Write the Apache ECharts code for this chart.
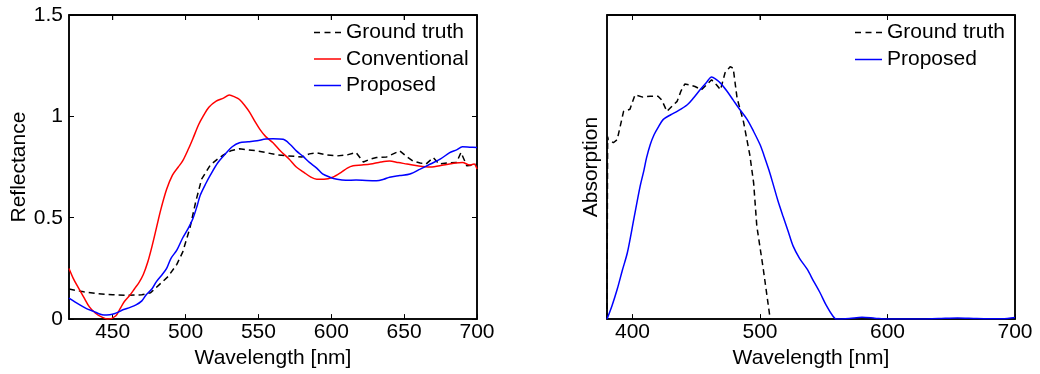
<!DOCTYPE html>
<html>
<head>
<meta charset="utf-8">
<script src="https://cdn.jsdelivr.net/npm/echarts@6/dist/echarts.min.js"></script>
<style>
html,body{margin:0;padding:0;background:#fff;}
#chart{width:1040px;height:374px;}
</style>
</head>
<body>
<div id="chart"></div>
<script>
// ---- Data (wavelength [nm], value) ----
const leftXTicks = [450, 500, 550, 600, 650, 700];
const leftYTicks = [0, 0.5, 1, 1.5];
const rightXTicks = [400, 500, 600, 700];

const leftGroundTruth = [[420,0.148],[430,0.135],[440,0.125],[450,0.12],[460,0.117],[470,0.12],[476,0.13],[482,0.17],[488,0.21],[494,0.27],[498,0.33],[503,0.45],[507,0.58],[511,0.69],[517,0.76],[522,0.79],[526,0.81],[531,0.83],[537,0.84],[543,0.835],[549,0.83],[556,0.82],[563,0.81],[570,0.805],[580,0.80],[585,0.815],[590,0.82],[597,0.81],[604,0.805],[611,0.81],[617,0.822],[622,0.775],[627,0.79],[631,0.797],[638,0.80],[647,0.83],[652,0.80],[656,0.78],[661,0.77],[665,0.765],[670,0.797],[674,0.765],[680,0.77],[686,0.773],[689,0.822],[693,0.756],[697,0.76],[700,0.765]];

const leftConventional = [[420,0.25],[423,0.2],[426,0.16],[430,0.11],[434,0.06],[438,0.03],[442,0.012],[447,0.0],[452,0.015],[455,0.05],[458,0.087],[462,0.12],[465,0.15],[468,0.18],[471,0.22],[474,0.28],[477,0.36],[480,0.45],[483,0.54],[487,0.64],[491,0.71],[495,0.75],[498,0.78],[502,0.84],[505,0.89],[509,0.96],[512,1.0],[516,1.045],[521,1.075],[526,1.09],[530,1.105],[534,1.095],[537,1.083],[541,1.05],[544,1.02],[548,0.97],[551,0.936],[555,0.9],[560,0.87],[565,0.83],[571,0.79],[576,0.75],[581,0.725],[586,0.70],[590,0.69],[595,0.69],[601,0.70],[607,0.725],[611,0.745],[615,0.756],[621,0.76],[627,0.765],[634,0.775],[640,0.78],[646,0.772],[652,0.765],[660,0.755],[668,0.75],[677,0.76],[685,0.77],[690,0.773],[695,0.76],[698,0.765],[700,0.74]];

const leftProposed = [[420,0.103],[424,0.085],[428,0.068],[432,0.052],[437,0.038],[441,0.025],[444,0.02],[448,0.022],[451,0.026],[454,0.035],[457,0.046],[462,0.058],[466,0.07],[470,0.09],[473,0.12],[477,0.15],[480,0.185],[484,0.22],[487,0.25],[490,0.3],[494,0.34],[498,0.40],[502,0.45],[505,0.495],[508,0.56],[510,0.61],[514,0.67],[517,0.71],[522,0.77],[528,0.82],[532,0.85],[537,0.87],[543,0.875],[549,0.88],[555,0.888],[560,0.89],[567,0.887],[572,0.86],[576,0.83],[581,0.80],[585,0.773],[590,0.745],[594,0.716],[599,0.70],[604,0.69],[610,0.685],[617,0.686],[624,0.684],[631,0.683],[636,0.69],[640,0.70],[647,0.708],[654,0.716],[661,0.74],[668,0.765],[675,0.79],[681,0.82],[686,0.835],[690,0.85],[695,0.848],[700,0.846]];

const rightGroundTruth = [[380,0],[380.5,0.6],[381,0.59],[385,0.58],[388,0.59],[393,0.683],[398,0.69],[402,0.738],[408,0.73],[414,0.733],[420,0.733],[423,0.72],[427,0.683],[431,0.70],[435,0.716],[438,0.75],[441,0.773],[445,0.77],[449,0.765],[454,0.754],[458,0.77],[462,0.787],[466,0.77],[469,0.754],[472.6,0.81],[476.6,0.83],[479,0.825],[482,0.727],[487,0.65],[492,0.54],[495,0.448],[497.5,0.306],[502.6,0.164],[508,0]];

const rightProposed = [[380,0],[384,0.045],[388,0.098],[392,0.16],[396,0.219],[401,0.328],[406,0.437],[409,0.49],[411,0.53],[414,0.575],[417,0.607],[420,0.63],[424,0.656],[430,0.672],[435,0.683],[443,0.705],[448,0.728],[453,0.754],[458,0.778],[462,0.796],[465,0.79],[469,0.776],[474,0.75],[479,0.72],[484,0.69],[490,0.656],[495,0.617],[500,0.574],[503,0.54],[507,0.49],[510,0.448],[514,0.39],[518,0.339],[522,0.29],[526,0.24],[531,0.2],[537,0.164],[542,0.125],[547,0.0875],[552,0.045],[557,0.011],[560,0],[570,0.002],[580,0.006],[590,0.003],[600,0],[620,0],[640,0.002],[655,0.004],[670,0.002],[690,0.001],[700,0.005]];

// ---- Chart ----
const FONT = 'Liberation Sans, Arial, Helvetica, sans-serif';
const FS = 21;
const dash = [6,4];
const ICON_DASH = 'path://M0,0h6v1.5h-6z M10.5,0h6v1.5h-6z M21,0h6v1.5h-6z';
const ICON_SOLID = 'path://M0,0h27v1.5h-27z';

function line(){ return {show:true, onZero:false, lineStyle:{color:'#000', width:1.5}}; }

function xBottom(grid, min, max, ticks){
  return {
    type:'value', gridIndex:grid, min:min, max:max, position:'bottom',
    axisLine: line(),
    axisTick:{show:true, inside:true, length:5, customValues:ticks, lineStyle:{color:'#000', width:1}},
    axisLabel:{show:true, customValues:ticks, color:'#000', fontFamily:FONT, fontSize:FS, margin:3},
    splitLine:{show:false},
    name:'Wavelength [nm]', nameLocation:'middle', nameGap:23,
    nameTextStyle:{color:'#000', fontFamily:FONT, fontSize:FS}
  };
}
function xTop(grid, min, max, ticks){
  return {
    type:'value', gridIndex:grid, min:min, max:max, position:'top',
    axisLine: line(),
    axisTick:{show:true, inside:true, length:5, customValues:ticks, lineStyle:{color:'#000', width:1}},
    axisLabel:{show:false},
    splitLine:{show:false}
  };
}
function yAx(grid, min, max, interval, pos, showLabel, showTick, name, gap){
  const o = {
    type:'value', gridIndex:grid, min:min, max:max, position:pos,
    axisLine: line(),
    axisTick:{show:showTick, inside:true, length:5, lineStyle:{color:'#000', width:1}},
    axisLabel: showLabel ? {show:true, color:'#000', fontFamily:FONT, fontSize:FS, margin:6} : {show:false},
    splitLine:{show:false}
  };
  if (interval) o.interval = interval;
  if (name) {
    o.name = name; o.nameLocation = 'middle'; o.nameGap = gap;
    o.nameTextStyle = {color:'#000', fontFamily:FONT, fontSize:FS};
  }
  return o;
}

const chart = echarts.init(document.getElementById('chart'), null, {renderer:'canvas'});
chart.setOption({
  backgroundColor:'#fff',
  animation:false,
  grid:[
    {left:69, top:15, width:408, height:306, show:true, borderColor:'#000', borderWidth:1.5, backgroundColor:'transparent'},
    {left:607, top:15, width:408, height:305, show:true, borderColor:'#000', borderWidth:1.5, backgroundColor:'transparent'}
  ],
  xAxis:[
    xBottom(0, 420, 700, leftXTicks),
    xTop(0, 420, 700, leftXTicks),
    xBottom(1, 380, 700, rightXTicks),
    xTop(1, 380, 700, rightXTicks)
  ],
  yAxis:[
    yAx(0, leftYTicks[0], leftYTicks[leftYTicks.length-1], 0.5, 'left', true, true, 'Reflectance', 31),
    yAx(0, leftYTicks[0], leftYTicks[leftYTicks.length-1], 0.5, 'right', false, true),
    yAx(1, 0, 1, null, 'left', false, false, 'Absorption', 5),
    yAx(1, 0, 1, null, 'right', false, false)
  ],
  legend:[
    {left:314, top:22, orient:'vertical', padding:0, itemWidth:27, itemHeight:1.5, itemGap:5.5,
     data:[{name:'Ground truth', icon:ICON_DASH},{name:'Conventional', icon:ICON_SOLID},{name:'Proposed', icon:ICON_SOLID}],
     textStyle:{color:'#000', fontFamily:FONT, fontSize:FS, lineHeight:21}},
    {left:855, top:22, orient:'vertical', padding:0, itemWidth:27, itemHeight:1.5, itemGap:6,
     data:[{name:'Ground truth', icon:ICON_DASH},{name:'Proposed', icon:ICON_SOLID}],
     textStyle:{color:'#000', fontFamily:FONT, fontSize:FS, lineHeight:21}}
  ],
  series:[
    {name:'Ground truth', type:'line', xAxisIndex:0, yAxisIndex:0, data:leftGroundTruth, symbol:'none', smooth:false,
     lineStyle:{color:'#000', width:1.5, type:dash}, itemStyle:{color:'#000'}},
    {name:'Conventional', type:'line', xAxisIndex:0, yAxisIndex:0, data:leftConventional, symbol:'none', smooth:0.3,
     lineStyle:{color:'#ff0000', width:1.5}, itemStyle:{color:'#ff0000'}},
    {name:'Proposed', type:'line', xAxisIndex:0, yAxisIndex:0, data:leftProposed, symbol:'none', smooth:0.3,
     lineStyle:{color:'#0000ff', width:1.5}, itemStyle:{color:'#0000ff'}},
    {name:'Ground truth', type:'line', xAxisIndex:2, yAxisIndex:2, data:rightGroundTruth, symbol:'none', smooth:false,
     lineStyle:{color:'#000', width:1.5, type:dash}, itemStyle:{color:'#000'}},
    {name:'Proposed', type:'line', xAxisIndex:2, yAxisIndex:2, data:rightProposed, symbol:'none', smooth:0.3,
     lineStyle:{color:'#0000ff', width:1.5}, itemStyle:{color:'#0000ff'}}
  ]
});

// Frame top edge + mirrored top ticks, positioned through the chart's own scales
function frameTop(seriesIndex, xMin, xMax, yMax, ticks){
  const els = [];
  const a = chart.convertToPixel({seriesIndex:seriesIndex}, [xMin, yMax]);
  const b = chart.convertToPixel({seriesIndex:seriesIndex}, [xMax, yMax]);
  if (!a || !b) return els;
  els.push({type:'line', z:100, silent:true, shape:{x1:a[0], y1:a[1], x2:b[0], y2:b[1]},
            style:{stroke:'#000', lineWidth:1.5}});
  ticks.forEach(function(t){
    const p = chart.convertToPixel({seriesIndex:seriesIndex}, [t, yMax]);
    els.push({type:'line', z:100, silent:true, shape:{x1:p[0], y1:p[1], x2:p[0], y2:p[1]+5},
              style:{stroke:'#000', lineWidth:1}});
  });
  return els;
}
const topEls = frameTop(0, 420, 700, leftYTicks[leftYTicks.length-1], leftXTicks)
  .concat(frameTop(3, 380, 700, 1, rightXTicks));
chart.setOption({graphic:{elements:topEls}});
</script>
</body>
</html>
